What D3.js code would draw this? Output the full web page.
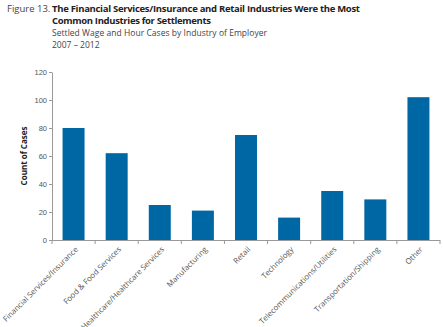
<!DOCTYPE html>
<html lang="en">
  <head>
    <meta charset="UTF-8" />
    <title>Settled Wage and Hour Cases by Industry of Employer</title>
    <style>
      body {
        margin: 0;
        background: white;
        font-family: "Open Sans", "Noto Sans", sans-serif;
      }
      .axis path,
      .axis line {
        stroke: #999;
      }
      .axis text {
        fill: #555;
        font-size: 7.5px;
      }
      .axis .lbl {
        font-size: 7.8px;
      }
    </style>
  </head>
  <body>
    <svg width="443" height="327"></svg>

    <script src="https://d3js.org/d3.v7.min.js"></script>
    <script>
      const industries = [
        "Financial Services/Insurance",
        "Food & Food Services",
        "Healthcare/Healthcare Services",
        "Manufacturing",
        "Retail",
        "Technology",
        "Telecommunications/Utilities",
        "Transportation/Shipping",
        "Other",
      ];
      const cases = [80, 62, 25, 21, 75, 16, 35, 29, 102];
      const yTicks = [0, 20, 40, 60, 80, 100, 120];

      const svg = d3.select("svg");
      const margin = { top: 72, left: 52, right: 3, bottom: 87 };
      const width = 443;
      const height = 327;

      const x = d3
        .scaleBand()
        .domain(industries)
        .range([margin.left, width - margin.right])
        .paddingInner(0.49)
        .paddingOuter(0.245);

      const y = d3
        .scaleLinear()
        .domain([0, 120])
        .range([height - margin.bottom, margin.top]);

      // heading
      const head = svg.append("g");
      head
        .append("text")
        .attr("x", 7)
        .attr("y", 12)
        .attr("font-size", 9.5)
        .attr("fill", "#444")
        .text("Figure 13.");
      head
        .append("text")
        .attr("x", 52)
        .attr("y", 12)
        .attr("font-size", 9.5)
        .attr("font-weight", "bold")
        .attr("fill", "#222")
        .attr("textLength", 308)
        .text(
          "The Financial Services/Insurance and Retail Industries Were the Most"
        );
      head
        .append("text")
        .attr("x", 52)
        .attr("y", 24)
        .attr("font-size", 9.5)
        .attr("font-weight", "bold")
        .attr("fill", "#222")
        .attr("textLength", 159)
        .text("Common Industries for Settlements");
      head
        .append("text")
        .attr("x", 52)
        .attr("y", 36)
        .attr("font-size", 8.5)
        .attr("fill", "#444")
        .attr("textLength", 215)
        .text("Settled Wage and Hour Cases by Industry of Employer");
      head
        .append("text")
        .attr("x", 52)
        .attr("y", 48)
        .attr("font-size", 8.5)
        .attr("fill", "#444")
        .text("2007 \u2013 2012");

      // bars
      svg
        .append("g")
        .selectAll("rect")
        .data(industries)
        .join("rect")
        .attr("x", (d) => x(d))
        .attr("width", x.bandwidth())
        .attr("y", (d, i) => y(cases[i]))
        .attr("height", (d, i) => y(0) - y(cases[i]))
        .attr("fill", "#0067a5");

      // y axis
      svg
        .append("g")
        .attr("class", "axis")
        .attr("transform", `translate(${margin.left},0)`)
        .call(d3.axisLeft(y).tickValues(yTicks).tickSize(3).tickSizeOuter(0))
        .call((g) => g.selectAll("text").attr("x", -5));

      // x axis with ticks between the categories
      const xAxis = svg
        .append("g")
        .attr("class", "axis")
        .attr("transform", `translate(0,${y(0)})`);
      xAxis
        .append("line")
        .attr("x1", margin.left)
        .attr("x2", width - margin.right)
        .attr("y1", 0.5)
        .attr("y2", 0.5);
      const step = x.step();
      const bounds = d3.range(industries.length + 1).map(
        (i) => margin.left + i * step
      );
      xAxis
        .selectAll(".sep")
        .data(bounds)
        .join("line")
        .attr("x1", (d) => d)
        .attr("x2", (d) => d)
        .attr("y1", 0)
        .attr("y2", 4);
      xAxis
        .selectAll(".lbl")
        .data(industries)
        .join("text")
        .attr("class", "lbl")
        .attr(
          "transform",
          (d) => `translate(${x(d) + x.bandwidth() / 2 + 3},${8}) rotate(-45)`
        )
        .attr("text-anchor", "end")
        .attr("dy", "0.35em")
        .text((d) => d);

      svg
        .append("text")
        .attr("transform", `translate(27,${(y(0) + y(120)) / 2}) rotate(-90)`)
        .attr("text-anchor", "middle")
        .attr("font-size", 8)
        .attr("font-weight", "bold")
        .attr("fill", "#222")
        .text("Count of Cases");
    </script>
  </body>
</html>
